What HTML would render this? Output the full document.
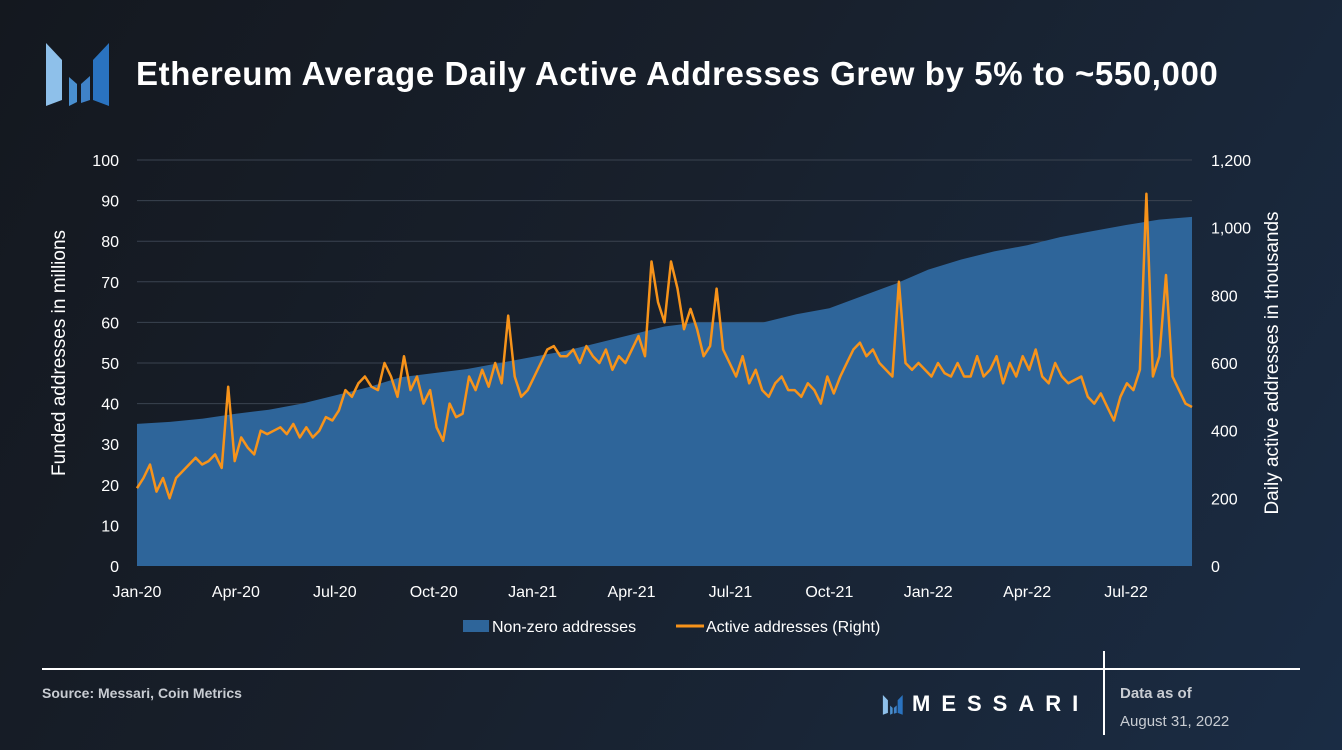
<!DOCTYPE html>
<html><head><meta charset="utf-8"><style>
html,body{margin:0;padding:0}
body{width:1342px;height:750px;overflow:hidden;background:linear-gradient(120deg,#14181f 0%,#18202c 45%,#1a2c44 100%);font-family:"Liberation Sans",sans-serif;position:relative}
.t{position:absolute;color:#fff}
</style></head><body>
<svg width="70" height="70" style="position:absolute;left:40px;top:40px" viewBox="0 0 70 70">
<polygon points="6,3 22,20 22,60 6,66" fill="#8ec0ea"/>
<polygon points="29,37 37,44 37,62 29,66" fill="#4a90d0"/>
<polygon points="69,3 53,20 53,60 69,66" fill="#2a73c0"/>
<polygon points="41,44 50,36 50,60 41,63" fill="#3f82c8"/>
</svg>
<div class="t" style="left:136px;top:55px;font-size:33px;font-weight:bold;letter-spacing:0.6px">Ethereum Average Daily Active Addresses Grew by 5% to ~550,000</div>
<svg id="chart" width="1342" height="750" style="position:absolute;left:0;top:0"></svg>
<div style="position:absolute;left:42px;top:668px;width:1258px;height:2px;background:#fff"></div>
<div style="position:absolute;left:1103px;top:651px;width:2px;height:84px;background:#fff"></div>
<div class="t" style="left:42px;top:685px;font-size:14px;font-weight:bold;color:#c8ccd2">Source: Messari, Coin Metrics</div>
<svg width="24" height="22" style="position:absolute;left:880px;top:694px" viewBox="0 0 70 70">
<polygon points="6,3 22,20 22,60 6,66" fill="#8ec0ea"/><polygon points="29,37 37,44 37,62 29,66" fill="#4a90d0"/>
<polygon points="69,3 53,20 53,60 69,66" fill="#2a73c0"/><polygon points="41,44 50,36 50,60 41,63" fill="#3f82c8"/></svg>
<div class="t" style="left:912px;top:691px;font-size:22px;font-weight:bold;letter-spacing:11px">MESSARI</div>
<div class="t" style="left:1120px;top:685px;font-size:15px;font-weight:bold;color:#c8ccd2">Data as of</div>
<div class="t" style="left:1120px;top:713px;font-size:15px;color:#c8ccd2">August 31, 2022</div>
<script>
const monthLabels=["Jan-20","Apr-20","Jul-20","Oct-20","Jan-21","Apr-21","Jul-21","Oct-21","Jan-22","Apr-22","Jul-22"];
const leftTicks=[0,10,20,30,40,50,60,70,80,90,100];
const rightTicks=[0,200,400,600,800,1000,1200];
const rightTickLabels=["0","200","400","600","800","1,000","1,200"];
const funded=[35,35.5,36.3,37.5,38.5,40,42,44,46.5,47.5,48.5,50,51.5,53,55,57,59,60,60,60,62,63.5,66.5,69.5,73,75.5,77.5,79,81,82.5,84,85.3,86];
const active=[230,260,300,220,260, 200,260,280,300,320, 300,310,330,290,530,310, 380,350,330,400,390, 400,410,390,420,380, 410,380,400,440,430, 460,520,500,540,560, 530,520,600,560,500, 620,520,560,480,520, 410,370,480,440,450, 560,520,580,530,600, 540,740,560,500,520, 560,600,640,650,620, 620,640,600,650,620, 600,640,580,620,600, 640,680,620,900,780, 720,900,820,700,760, 700,620,650,820,640, 600,560,620,540,580, 520,500,540,560,520, 520,500,540,520,480, 560,510,560,600,640, 660,620,640,600,580, 560,840,600,580,600, 580,560,600,570,560, 600,560,560,620,560, 580,620,540,600,560, 620,580,640,560,540, 600,560,540,550,560, 500,480,510,470,430, 500,540,520,580,1100,560, 620,860,560,520,480,470];
const X0=137,X1=1192,Y0=566,Y1=160,NM=32;
const xM=m=>X0+(X1-X0)*m/NM;
const yL=v=>Y0-(Y0-Y1)*v/100;
const yR=v=>Y0-(Y0-Y1)*v/1200;
const svg=document.getElementById('chart');
const NS="http://www.w3.org/2000/svg";
function mk(tag,attrs){const e=document.createElementNS(NS,tag);for(const k in attrs)e.setAttribute(k,attrs[k]);svg.appendChild(e);return e;}
leftTicks.forEach((t,i)=>{
 if(t>0){const g=mk('line',{x1:X0,x2:X1,y1:yL(t),y2:yL(t),stroke:'#3a4350','stroke-width':1});
 
 }
 const tx=mk('text',{x:119,y:yL(t)+6,'text-anchor':'end',fill:'#fff','font-size':16});tx.textContent=t;
 
 
});
rightTicks.forEach((t,i)=>{
 const tx=mk('text',{x:1211,y:yR(t)+6,fill:'#fff','font-size':16});tx.textContent=rightTickLabels[i];
 
 
});
let d=`M${xM(0)},${Y0}`;funded.forEach((v,i)=>d+=` L${xM(i)},${yL(v)}`);d+=` L${xM(funded.length-1)},${Y0}Z`;
const area=mk('path',{d:d,fill:'#2e659a'});


let p='';active.forEach((v,i)=>{p+=(i?' L':'M')+xM(NM*i/(active.length-1)).toFixed(1)+','+yR(v).toFixed(1);});
const line=mk('path',{d:p,fill:'none',stroke:'#f7931a','stroke-width':2.5,'stroke-linejoin':'round'});


monthLabels.forEach((l,i)=>{
 const tx=mk('text',{x:xM(i*3),y:597,'text-anchor':'middle',fill:'#fff','font-size':16});tx.textContent=l;
 
 
});
const yt=mk('text',{transform:'translate(65,353) rotate(-90)','text-anchor':'middle',fill:'#fff','font-size':19});yt.textContent='Funded addresses in millions';


const yt2=mk('text',{transform:'translate(1278,363) rotate(-90)','text-anchor':'middle',fill:'#fff','font-size':19});yt2.textContent='Daily active addresses in thousands';


const lg1=mk('rect',{x:463,y:620,width:26,height:12,fill:'#2e659a'});


const lt1=mk('text',{x:492,y:632,fill:'#fff','font-size':16});lt1.textContent='Non-zero addresses';


const lg2=mk('line',{x1:676,x2:704,y1:626,y2:626,stroke:'#f7931a','stroke-width':3});


const lt2=mk('text',{x:706,y:632,fill:'#fff','font-size':16});lt2.textContent='Active addresses (Right)';


</script>
</body></html>
